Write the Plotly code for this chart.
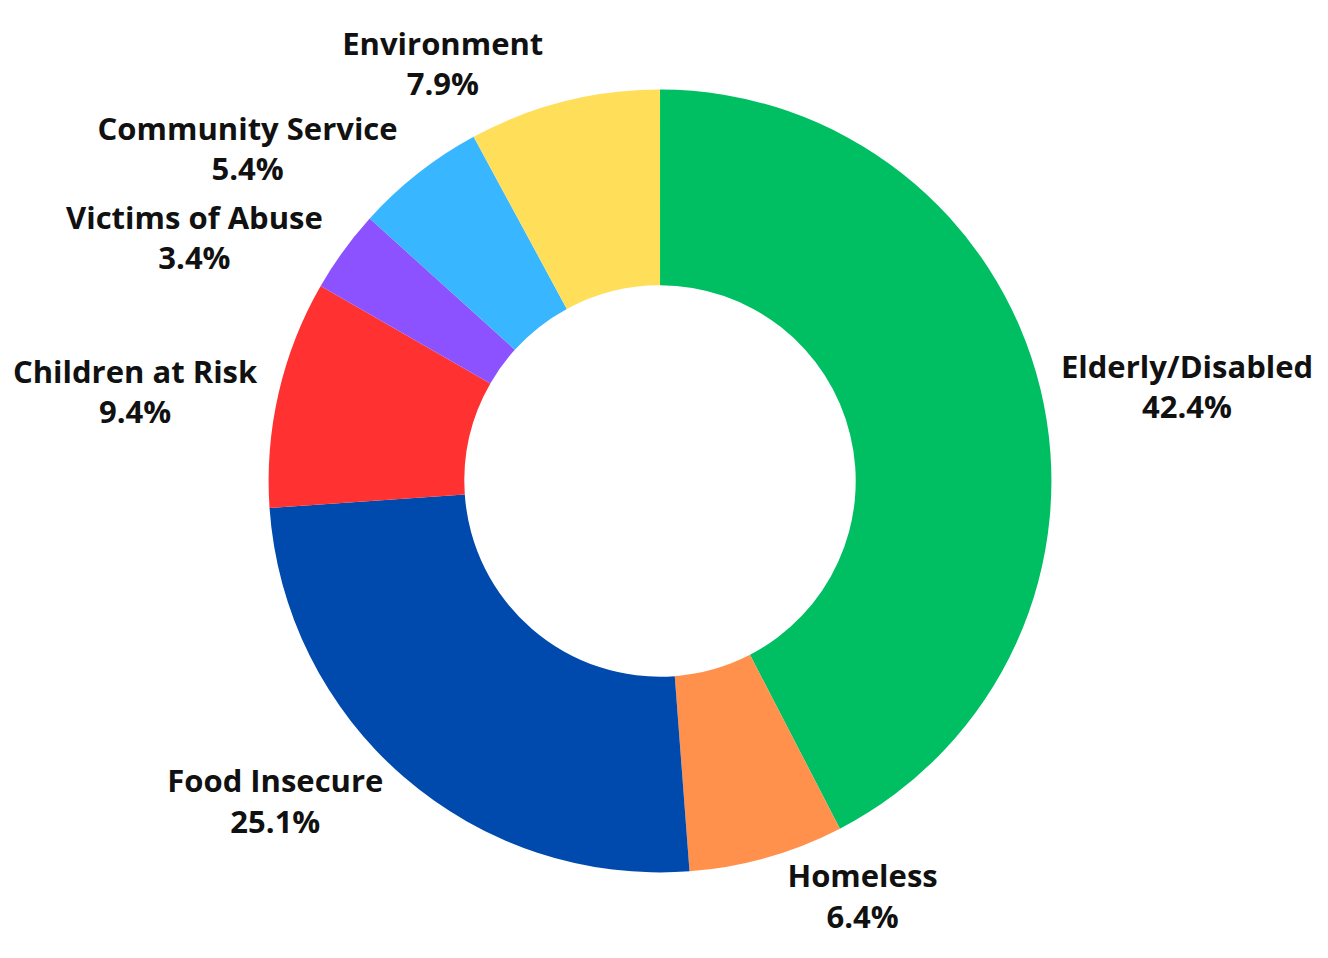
import plotly.graph_objects as go

labels = ["Elderly/Disabled", "Homeless", "Food Insecure", "Children at Risk",
          "Victims of Abuse", "Community Service", "Environment"]
values = [42.4, 6.4, 25.1, 9.4, 3.4, 5.4, 7.9]
colors = ["#00BF63", "#FF914D", "#004AAD", "#FF3131", "#8C52FF", "#38B6FF", "#FFDE59"]

W, H = 1328, 958
# page body adds an 8px offset, so the figure centre is shifted back by 8px
cx, cy, r = 651, 473, 392

fig = go.Figure(go.Pie(
    labels=labels,
    values=values,
    hole=0.5,
    sort=False,
    direction="clockwise",
    rotation=0,
    marker=dict(colors=colors, line=dict(width=0)),
    textposition="outside",
    texttemplate="<b>%{label}</b><br><b>%{value:.1f}%</b>",
    textfont=dict(family="Open Sans", size=31, color="#111111"),
    domain=dict(x=[(cx - r) / W, (cx + r) / W], y=[1 - (cy + r) / H, 1 - (cy - r) / H]),
    showlegend=False,
))
fig.update_layout(
    width=W, height=H,
    margin=dict(l=0, r=0, t=0, b=0),
    paper_bgcolor="white",
    plot_bgcolor="white",
)
fig.write_html("out.html")
